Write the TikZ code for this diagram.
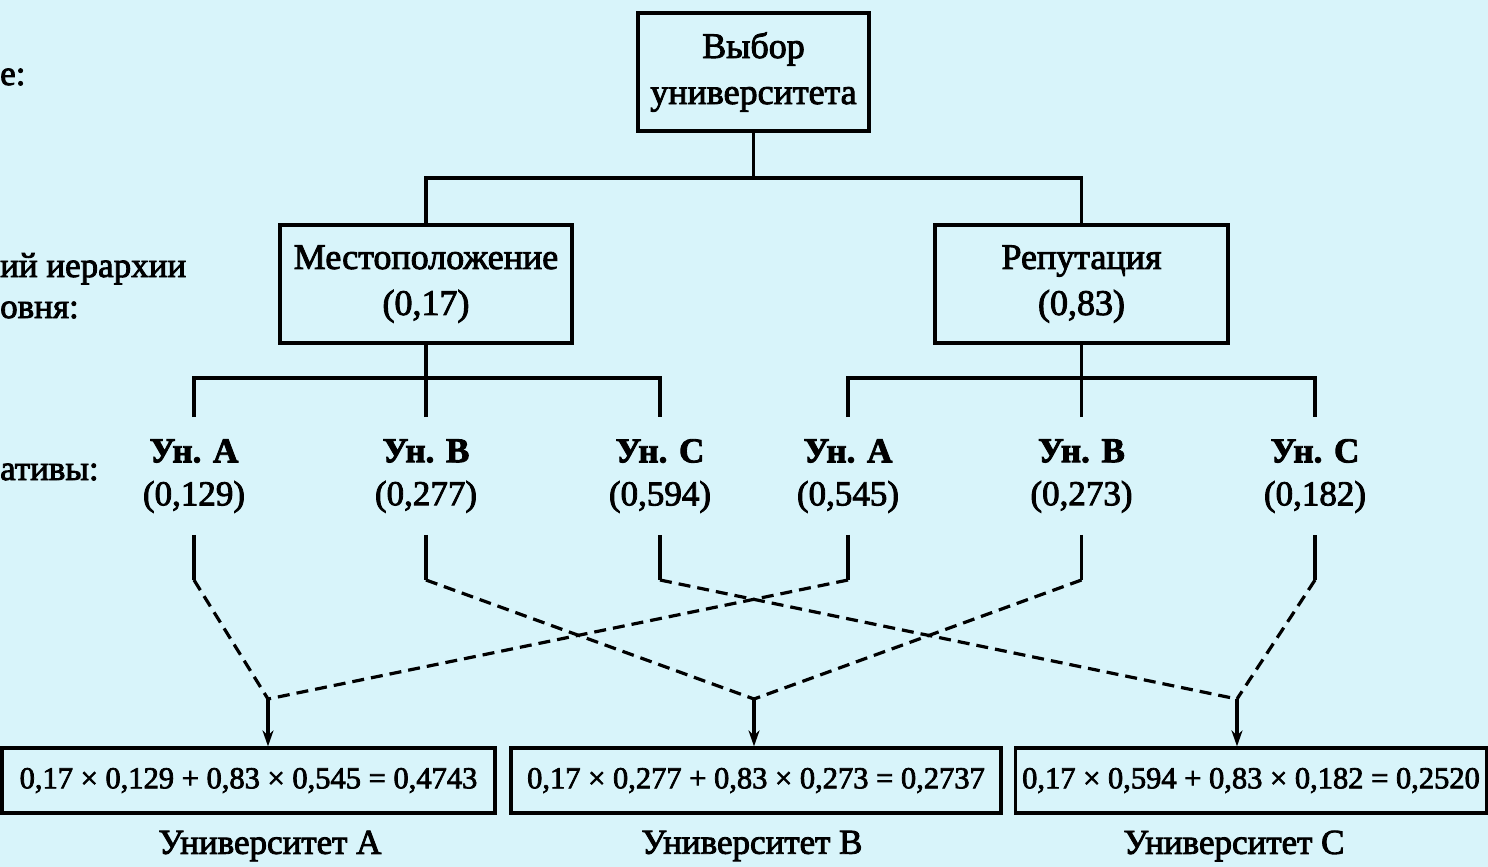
\documentclass[tikz,border=0pt]{standalone}
\usepackage{fontspec}
\setmainfont{Liberation Serif}[FakeBold=2.5]
\usetikzlibrary{arrows.meta}
\definecolor{bgc}{RGB}{216,244,250}
\begin{document}
\begin{tikzpicture}[x=1pt,y=-1pt,
  every node/.style={inner sep=0pt, text=black},
  box/.style={draw, line width=3.2pt, align=center, font=\fontsize{36}{46}\selectfont},
  lbl/.style={align=center, font=\fontsize{35}{43}\selectfont, inner ysep=22pt},
  eq/.style={draw, line width=3.2pt, font=\fontsize{30.5}{37}\selectfont, minimum height=65pt},
  conn/.style={line width=3.2pt},
  dsh/.style={line width=3.2pt, dash pattern=on 12pt off 7pt},
  arr/.style={line width=3.2pt, -{Stealth[length=16pt,width=11pt]}},
  side/.style={anchor=base west, font=\fontsize{35}{43}\selectfont},
  uni/.style={font=\fontsize{35}{43}\selectfont},
]
\fill[bgc] (0,0) rectangle (1488,867);
\useasboundingbox (0,0) rectangle (1488,867);

% left partial captions
\node[side] (s1) at (0,85) {е:};
\node[side] (s2) at (0,277) {ий иерархии};
\node[side] (s3) at (0,318) {овня:};
\node[side] (s4) at (0,480) {ативы:};

% hierarchy boxes
\node[box, minimum width=231pt, minimum height=118pt] (top) at (753.5,72) {Выбор\\университета};
\node[box, minimum width=292pt, minimum height=118pt] (loc) at (426,284) {Местоположение\\(0,17)};
\node[box, minimum width=293pt, minimum height=118pt] (rep) at (1081.5,284) {Репутация\\(0,83)};

% alternatives
\node[lbl] (a1) at (194,476) {\textbf{Ун. А}\\(0,129)};
\node[lbl] (b1) at (426,476) {\textbf{Ун. В}\\(0,277)};
\node[lbl] (c1) at (660,476) {\textbf{Ун. С}\\(0,594)};
\node[lbl] (a2) at (848,476) {\textbf{Ун. А}\\(0,545)};
\node[lbl] (b2) at (1081.5,476) {\textbf{Ун. В}\\(0,273)};
\node[lbl] (c2) at (1315,476) {\textbf{Ун. С}\\(0,182)};

% result boxes
\node[eq, minimum width=493pt] (eqa) at (248.5,780.5) {0,17 × 0,129 + 0,83 × 0,545 = 0,4743};
\node[eq, minimum width=490pt] (eqb) at (756,780.5) {0,17 × 0,277 + 0,83 × 0,273 = 0,2737};
\node[eq, minimum width=471pt] (eqc) at (1251,780.5) {0,17 × 0,594 + 0,83 × 0,182 = 0,2520};

\node[uni] (ua) at (270,846) {Университет А};
\node[uni] (ub) at (752,846) {Университет В};
\node[uni] (uc) at (1234,846) {Университет С};

% tree connectors
\coordinate (j0) at (753.5,178);
\draw[conn] (top.south) -- (j0);
\draw[conn] (loc.north) |- (j0) -| (rep.north);
\coordinate (j1) at (426,378);
\draw[conn] (loc.south) -- (j1);
\draw[conn] (a1.north) |- (j1) -| (c1.north);
\draw[conn] (b1.north) -- (j1);
\coordinate (j2) at (1081.5,378);
\draw[conn] (rep.south) -- (j2);
\draw[conn] (a2.north) |- (j2) -| (c2.north);
\draw[conn] (b2.north) -- (j2);

% bends and corners
\coordinate (ka1) at (194,580);
\coordinate (kb1) at (426,580);
\coordinate (kc1) at (660,580);
\coordinate (ka2) at (848,580);
\coordinate (kb2) at (1081.5,580);
\coordinate (kc2) at (1315,580);
\coordinate (ca) at (268,699);
\coordinate (cb) at (754,699);
\coordinate (cc) at (1237,699);

\foreach \n in {a1,b1,c1,a2,b2,c2}{\draw[conn] (\n.south) -- (k\n);}
\draw[dsh] (ka1) -- (ca);
\draw[dsh] (ka2) -- (ca);
\draw[dsh] (kb1) -- (cb);
\draw[dsh] (kb2) -- (cb);
\draw[dsh] (kc1) -- (cc);
\draw[dsh] (kc2) -- (cc);

\draw[arr] (ca) -- (ca |- eqa.north);
\draw[arr] (cb) -- (cb |- eqb.north);
\draw[arr] (cc) -- (cc |- eqc.north);
\end{tikzpicture}
\end{document}
